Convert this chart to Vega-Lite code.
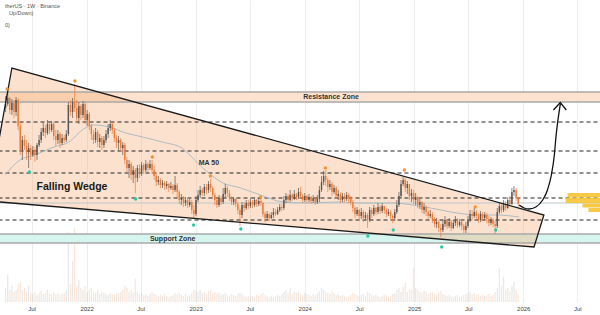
{
"$schema": "https://vega.github.io/schema/vega-lite/v6.json",
"width": 600, "height": 302, "autosize": "none", "padding": {"left": 0, "top": 0, "right": 0, "bottom": 13}, "background": "white",
"config": {"view": {"stroke": null}, "axis": {"labelFont": "Liberation Sans", "labelFontSize": 6, "labelColor": "#444", "ticks": false, "domain": false, "grid": true, "gridColor": "#ededed", "gridWidth": 1, "labelPadding": 3}},
"datasets": {
"candles": [
{"d":"2021-04-05","o":2.02,"h":2.14,"l":1.98,"c":2.06,"v":14},
{"d":"2021-04-12","o":2.06,"h":2.20,"l":2.04,"c":2.12,"v":27},
{"d":"2021-04-19","o":2.12,"h":2.13,"l":1.96,"c":2.00,"v":12},
{"d":"2021-04-26","o":2.00,"h":2.11,"l":1.95,"c":2.07,"v":16},
{"d":"2021-05-03","o":2.07,"h":2.10,"l":1.92,"c":1.98,"v":10},
{"d":"2021-05-10","o":1.98,"h":2.13,"l":1.94,"c":2.10,"v":12},
{"d":"2021-05-17","o":2.10,"h":2.12,"l":1.80,"c":1.84,"v":18},
{"d":"2021-05-24","o":1.84,"h":1.88,"l":1.55,"c":1.60,"v":20},
{"d":"2021-05-31","o":1.60,"h":1.74,"l":1.50,"c":1.70,"v":12},
{"d":"2021-06-07","o":1.70,"h":1.75,"l":1.60,"c":1.64,"v":14},
{"d":"2021-06-14","o":1.64,"h":1.70,"l":1.50,"c":1.58,"v":10},
{"d":"2021-06-21","o":1.58,"h":1.67,"l":1.42,"c":1.62,"v":16},
{"d":"2021-06-28","o":1.62,"h":1.65,"l":1.50,"c":1.55,"v":9},
{"d":"2021-07-05","o":1.55,"h":1.64,"l":1.53,"c":1.60,"v":8},
{"d":"2021-07-12","o":1.60,"h":1.63,"l":1.48,"c":1.55,"v":10},
{"d":"2021-07-19","o":1.55,"h":1.67,"l":1.50,"c":1.65,"v":7},
{"d":"2021-07-26","o":1.65,"h":1.75,"l":1.63,"c":1.70,"v":9},
{"d":"2021-08-02","o":1.70,"h":1.82,"l":1.67,"c":1.78,"v":11},
{"d":"2021-08-09","o":1.78,"h":1.87,"l":1.74,"c":1.82,"v":8},
{"d":"2021-08-16","o":1.82,"h":1.85,"l":1.72,"c":1.77,"v":9},
{"d":"2021-08-23","o":1.77,"h":1.90,"l":1.75,"c":1.86,"v":12},
{"d":"2021-08-30","o":1.86,"h":1.88,"l":1.76,"c":1.80,"v":8},
{"d":"2021-09-06","o":1.80,"h":1.89,"l":1.78,"c":1.86,"v":7},
{"d":"2021-09-13","o":1.86,"h":1.88,"l":1.70,"c":1.74,"v":10},
{"d":"2021-09-20","o":1.74,"h":1.80,"l":1.64,"c":1.70,"v":8},
{"d":"2021-09-27","o":1.70,"h":1.80,"l":1.66,"c":1.76,"v":9},
{"d":"2021-10-04","o":1.76,"h":1.78,"l":1.62,"c":1.67,"v":7},
{"d":"2021-10-11","o":1.67,"h":1.76,"l":1.65,"c":1.72,"v":8},
{"d":"2021-10-18","o":1.72,"h":1.75,"l":1.67,"c":1.70,"v":9},
{"d":"2021-10-25","o":1.70,"h":1.80,"l":1.68,"c":1.76,"v":12},
{"d":"2021-11-01","o":1.76,"h":2.08,"l":1.74,"c":2.05,"v":69},
{"d":"2021-11-08","o":2.05,"h":2.10,"l":1.94,"c":1.98,"v":18},
{"d":"2021-11-15","o":1.98,"h":2.12,"l":1.92,"c":2.08,"v":40},
{"d":"2021-11-22","o":2.08,"h":2.26,"l":1.98,"c":2.02,"v":74},
{"d":"2021-11-29","o":2.02,"h":2.10,"l":1.88,"c":1.92,"v":16},
{"d":"2021-12-06","o":1.92,"h":2.08,"l":1.86,"c":2.04,"v":22},
{"d":"2021-12-13","o":2.04,"h":2.06,"l":1.90,"c":1.95,"v":14},
{"d":"2021-12-20","o":1.95,"h":2.09,"l":1.92,"c":2.06,"v":12},
{"d":"2021-12-27","o":2.06,"h":2.08,"l":1.86,"c":1.90,"v":16},
{"d":"2022-01-03","o":1.90,"h":2.00,"l":1.84,"c":1.96,"v":10},
{"d":"2022-01-10","o":1.96,"h":1.98,"l":1.80,"c":1.84,"v":12},
{"d":"2022-01-17","o":1.84,"h":1.86,"l":1.70,"c":1.76,"v":14},
{"d":"2022-01-24","o":1.76,"h":1.80,"l":1.66,"c":1.70,"v":10},
{"d":"2022-01-31","o":1.70,"h":1.82,"l":1.67,"c":1.78,"v":9},
{"d":"2022-02-07","o":1.78,"h":1.80,"l":1.63,"c":1.68,"v":12},
{"d":"2022-02-14","o":1.68,"h":1.76,"l":1.62,"c":1.72,"v":8},
{"d":"2022-02-21","o":1.72,"h":1.74,"l":1.60,"c":1.65,"v":10},
{"d":"2022-02-28","o":1.65,"h":1.74,"l":1.62,"c":1.70,"v":9},
{"d":"2022-03-07","o":1.70,"h":1.80,"l":1.67,"c":1.76,"v":8},
{"d":"2022-03-14","o":1.76,"h":1.86,"l":1.72,"c":1.82,"v":7},
{"d":"2022-03-21","o":1.82,"h":1.90,"l":1.79,"c":1.86,"v":9},
{"d":"2022-03-28","o":1.86,"h":1.88,"l":1.76,"c":1.80,"v":8},
{"d":"2022-04-04","o":1.80,"h":1.82,"l":1.68,"c":1.72,"v":7},
{"d":"2022-04-11","o":1.72,"h":1.75,"l":1.62,"c":1.67,"v":8},
{"d":"2022-04-18","o":1.67,"h":1.74,"l":1.60,"c":1.70,"v":9},
{"d":"2022-04-25","o":1.70,"h":1.72,"l":1.58,"c":1.62,"v":10},
{"d":"2022-05-02","o":1.62,"h":1.68,"l":1.55,"c":1.65,"v":12},
{"d":"2022-05-09","o":1.65,"h":1.67,"l":1.46,"c":1.50,"v":16},
{"d":"2022-05-16","o":1.50,"h":1.53,"l":1.38,"c":1.42,"v":14},
{"d":"2022-05-23","o":1.42,"h":1.50,"l":1.32,"c":1.46,"v":10},
{"d":"2022-05-30","o":1.46,"h":1.48,"l":1.30,"c":1.35,"v":12},
{"d":"2022-06-06","o":1.35,"h":1.44,"l":1.27,"c":1.40,"v":9},
{"d":"2022-06-13","o":1.40,"h":1.42,"l":1.17,"c":1.32,"v":23},
{"d":"2022-06-20","o":1.32,"h":1.45,"l":1.28,"c":1.42,"v":10},
{"d":"2022-06-27","o":1.42,"h":1.46,"l":1.32,"c":1.38,"v":8},
{"d":"2022-07-04","o":1.38,"h":1.48,"l":1.34,"c":1.45,"v":9},
{"d":"2022-07-11","o":1.45,"h":1.47,"l":1.36,"c":1.40,"v":7},
{"d":"2022-07-18","o":1.40,"h":1.50,"l":1.38,"c":1.46,"v":8},
{"d":"2022-07-25","o":1.46,"h":1.48,"l":1.37,"c":1.42,"v":6},
{"d":"2022-08-01","o":1.42,"h":1.50,"l":1.40,"c":1.46,"v":8},
{"d":"2022-08-08","o":1.46,"h":1.50,"l":1.36,"c":1.40,"v":10},
{"d":"2022-08-15","o":1.40,"h":1.44,"l":1.30,"c":1.34,"v":8},
{"d":"2022-08-22","o":1.34,"h":1.36,"l":1.24,"c":1.28,"v":7},
{"d":"2022-08-29","o":1.28,"h":1.34,"l":1.25,"c":1.30,"v":6},
{"d":"2022-09-05","o":1.30,"h":1.32,"l":1.22,"c":1.25,"v":7},
{"d":"2022-09-12","o":1.25,"h":1.30,"l":1.22,"c":1.27,"v":6},
{"d":"2022-09-19","o":1.27,"h":1.29,"l":1.20,"c":1.24,"v":8},
{"d":"2022-09-26","o":1.24,"h":1.29,"l":1.21,"c":1.26,"v":6},
{"d":"2022-10-03","o":1.26,"h":1.27,"l":1.18,"c":1.22,"v":5},
{"d":"2022-10-10","o":1.22,"h":1.28,"l":1.20,"c":1.24,"v":6},
{"d":"2022-10-17","o":1.24,"h":1.26,"l":1.16,"c":1.20,"v":7},
{"d":"2022-10-24","o":1.20,"h":1.34,"l":1.18,"c":1.25,"v":9},
{"d":"2022-10-31","o":1.25,"h":1.27,"l":1.12,"c":1.18,"v":8},
{"d":"2022-11-07","o":1.18,"h":1.20,"l":1.06,"c":1.10,"v":10},
{"d":"2022-11-14","o":1.10,"h":1.16,"l":1.05,"c":1.12,"v":7},
{"d":"2022-11-21","o":1.12,"h":1.14,"l":1.03,"c":1.07,"v":6},
{"d":"2022-11-28","o":1.07,"h":1.13,"l":1.04,"c":1.10,"v":8},
{"d":"2022-12-05","o":1.10,"h":1.12,"l":1.02,"c":1.05,"v":6},
{"d":"2022-12-12","o":1.05,"h":1.11,"l":1.03,"c":1.08,"v":7},
{"d":"2022-12-19","o":1.08,"h":1.10,"l":0.96,"c":1.00,"v":9},
{"d":"2022-12-26","o":1.00,"h":1.05,"l":0.91,"c":0.96,"v":12},
{"d":"2023-01-02","o":0.96,"h":1.14,"l":0.94,"c":1.10,"v":11},
{"d":"2023-01-09","o":1.10,"h":1.20,"l":1.08,"c":1.15,"v":10},
{"d":"2023-01-16","o":1.15,"h":1.24,"l":1.12,"c":1.20,"v":12},
{"d":"2023-01-23","o":1.20,"h":1.22,"l":1.14,"c":1.17,"v":9},
{"d":"2023-01-30","o":1.17,"h":1.26,"l":1.14,"c":1.23,"v":10},
{"d":"2023-02-06","o":1.23,"h":1.26,"l":1.16,"c":1.20,"v":8},
{"d":"2023-02-13","o":1.20,"h":1.29,"l":1.17,"c":1.26,"v":11},
{"d":"2023-02-20","o":1.26,"h":1.31,"l":1.18,"c":1.22,"v":12},
{"d":"2023-02-27","o":1.22,"h":1.24,"l":1.12,"c":1.15,"v":9},
{"d":"2023-03-06","o":1.15,"h":1.17,"l":1.05,"c":1.10,"v":10},
{"d":"2023-03-13","o":1.10,"h":1.12,"l":1.02,"c":1.05,"v":8},
{"d":"2023-03-20","o":1.05,"h":1.15,"l":1.03,"c":1.12,"v":9},
{"d":"2023-03-27","o":1.12,"h":1.14,"l":1.05,"c":1.08,"v":7},
{"d":"2023-04-03","o":1.08,"h":1.22,"l":1.06,"c":1.16,"v":8},
{"d":"2023-04-10","o":1.16,"h":1.26,"l":1.13,"c":1.22,"v":9},
{"d":"2023-04-17","o":1.22,"h":1.24,"l":1.13,"c":1.17,"v":7},
{"d":"2023-04-24","o":1.17,"h":1.20,"l":1.09,"c":1.12,"v":6},
{"d":"2023-05-01","o":1.12,"h":1.14,"l":1.05,"c":1.08,"v":8},
{"d":"2023-05-08","o":1.08,"h":1.13,"l":1.05,"c":1.11,"v":7},
{"d":"2023-05-15","o":1.11,"h":1.12,"l":1.03,"c":1.06,"v":6},
{"d":"2023-05-22","o":1.06,"h":1.08,"l":0.96,"c":1.00,"v":8},
{"d":"2023-05-29","o":1.00,"h":1.02,"l":0.84,"c":0.95,"v":9},
{"d":"2023-06-05","o":0.95,"h":1.08,"l":0.92,"c":1.05,"v":8},
{"d":"2023-06-12","o":1.05,"h":1.08,"l":0.98,"c":1.02,"v":6},
{"d":"2023-06-19","o":1.02,"h":1.10,"l":1.00,"c":1.07,"v":5},
{"d":"2023-06-26","o":1.07,"h":1.10,"l":1.01,"c":1.04,"v":6},
{"d":"2023-07-03","o":1.04,"h":1.11,"l":1.02,"c":1.08,"v":5},
{"d":"2023-07-10","o":1.08,"h":1.10,"l":1.02,"c":1.05,"v":6},
{"d":"2023-07-17","o":1.05,"h":1.13,"l":1.03,"c":1.10,"v":5},
{"d":"2023-07-24","o":1.10,"h":1.11,"l":1.03,"c":1.06,"v":7},
{"d":"2023-07-31","o":1.06,"h":1.12,"l":1.04,"c":1.09,"v":6},
{"d":"2023-08-07","o":1.09,"h":1.11,"l":1.04,"c":1.07,"v":8},
{"d":"2023-08-14","o":1.07,"h":1.08,"l":0.93,"c":0.96,"v":9},
{"d":"2023-08-21","o":0.96,"h":0.98,"l":0.88,"c":0.92,"v":7},
{"d":"2023-08-28","o":0.92,"h":0.99,"l":0.90,"c":0.96,"v":6},
{"d":"2023-09-04","o":0.96,"h":0.97,"l":0.89,"c":0.92,"v":5},
{"d":"2023-09-11","o":0.92,"h":0.98,"l":0.91,"c":0.95,"v":6},
{"d":"2023-09-18","o":0.95,"h":1.02,"l":0.92,"c":0.98,"v":5},
{"d":"2023-09-25","o":0.98,"h":1.01,"l":0.94,"c":0.96,"v":6},
{"d":"2023-10-02","o":0.96,"h":1.03,"l":0.95,"c":1.00,"v":7},
{"d":"2023-10-09","o":1.00,"h":1.06,"l":0.98,"c":1.03,"v":6},
{"d":"2023-10-16","o":1.03,"h":1.06,"l":0.99,"c":1.02,"v":8},
{"d":"2023-10-23","o":1.02,"h":1.14,"l":1.00,"c":1.10,"v":10},
{"d":"2023-10-30","o":1.10,"h":1.17,"l":1.07,"c":1.14,"v":12},
{"d":"2023-11-06","o":1.14,"h":1.16,"l":1.07,"c":1.10,"v":9},
{"d":"2023-11-13","o":1.10,"h":1.20,"l":1.08,"c":1.15,"v":14},
{"d":"2023-11-20","o":1.15,"h":1.17,"l":1.09,"c":1.12,"v":8},
{"d":"2023-11-27","o":1.12,"h":1.20,"l":1.10,"c":1.16,"v":10},
{"d":"2023-12-04","o":1.16,"h":1.17,"l":1.10,"c":1.13,"v":9},
{"d":"2023-12-11","o":1.13,"h":1.22,"l":1.11,"c":1.18,"v":11},
{"d":"2023-12-18","o":1.18,"h":1.23,"l":1.11,"c":1.14,"v":8},
{"d":"2023-12-25","o":1.14,"h":1.16,"l":1.07,"c":1.10,"v":7},
{"d":"2024-01-01","o":1.10,"h":1.17,"l":1.08,"c":1.14,"v":9},
{"d":"2024-01-08","o":1.14,"h":1.15,"l":1.07,"c":1.10,"v":8},
{"d":"2024-01-15","o":1.10,"h":1.16,"l":1.08,"c":1.13,"v":7},
{"d":"2024-01-22","o":1.13,"h":1.14,"l":1.06,"c":1.09,"v":6},
{"d":"2024-01-29","o":1.09,"h":1.15,"l":1.07,"c":1.12,"v":8},
{"d":"2024-02-05","o":1.12,"h":1.13,"l":1.05,"c":1.08,"v":7},
{"d":"2024-02-12","o":1.08,"h":1.15,"l":1.06,"c":1.11,"v":9},
{"d":"2024-02-19","o":1.11,"h":1.24,"l":1.08,"c":1.20,"v":11},
{"d":"2024-02-26","o":1.20,"h":1.34,"l":1.18,"c":1.28,"v":14},
{"d":"2024-03-04","o":1.28,"h":1.39,"l":1.25,"c":1.34,"v":12},
{"d":"2024-03-11","o":1.34,"h":1.40,"l":1.24,"c":1.30,"v":10},
{"d":"2024-03-18","o":1.30,"h":1.32,"l":1.18,"c":1.23,"v":9},
{"d":"2024-03-25","o":1.23,"h":1.30,"l":1.20,"c":1.26,"v":8},
{"d":"2024-04-01","o":1.26,"h":1.28,"l":1.14,"c":1.18,"v":11},
{"d":"2024-04-08","o":1.18,"h":1.25,"l":1.16,"c":1.22,"v":9},
{"d":"2024-04-15","o":1.22,"h":1.24,"l":1.11,"c":1.14,"v":7},
{"d":"2024-04-22","o":1.14,"h":1.20,"l":1.10,"c":1.16,"v":8},
{"d":"2024-04-29","o":1.16,"h":1.18,"l":1.07,"c":1.10,"v":6},
{"d":"2024-05-06","o":1.10,"h":1.17,"l":1.08,"c":1.14,"v":7},
{"d":"2024-05-13","o":1.14,"h":1.17,"l":1.08,"c":1.11,"v":6},
{"d":"2024-05-20","o":1.11,"h":1.18,"l":1.09,"c":1.15,"v":5},
{"d":"2024-05-27","o":1.15,"h":1.17,"l":1.07,"c":1.12,"v":6},
{"d":"2024-06-03","o":1.12,"h":1.14,"l":1.05,"c":1.08,"v":7},
{"d":"2024-06-10","o":1.08,"h":1.10,"l":0.98,"c":1.02,"v":9},
{"d":"2024-06-17","o":1.02,"h":1.04,"l":0.92,"c":0.96,"v":8},
{"d":"2024-06-24","o":0.96,"h":1.03,"l":0.94,"c":1.00,"v":7},
{"d":"2024-07-01","o":1.00,"h":1.01,"l":0.90,"c":0.94,"v":6},
{"d":"2024-07-08","o":0.94,"h":1.02,"l":0.91,"c":0.98,"v":7},
{"d":"2024-07-15","o":0.98,"h":1.00,"l":0.88,"c":0.92,"v":8},
{"d":"2024-07-22","o":0.92,"h":0.98,"l":0.90,"c":0.95,"v":6},
{"d":"2024-07-29","o":0.95,"h":0.97,"l":0.82,"c":0.90,"v":10},
{"d":"2024-08-05","o":0.90,"h":1.03,"l":0.88,"c":1.00,"v":9},
{"d":"2024-08-12","o":1.00,"h":1.02,"l":0.92,"c":0.96,"v":7},
{"d":"2024-08-19","o":0.96,"h":1.05,"l":0.94,"c":1.02,"v":6},
{"d":"2024-08-26","o":1.02,"h":1.03,"l":0.95,"c":0.98,"v":7},
{"d":"2024-09-02","o":0.98,"h":1.07,"l":0.96,"c":1.03,"v":6},
{"d":"2024-09-09","o":1.03,"h":1.05,"l":0.96,"c":0.99,"v":5},
{"d":"2024-09-16","o":0.99,"h":1.07,"l":0.97,"c":1.04,"v":6},
{"d":"2024-09-23","o":1.04,"h":1.04,"l":0.96,"c":1.00,"v":7},
{"d":"2024-09-30","o":1.00,"h":1.02,"l":0.93,"c":0.96,"v":6},
{"d":"2024-10-07","o":0.96,"h":1.01,"l":0.94,"c":0.98,"v":5},
{"d":"2024-10-14","o":0.98,"h":1.00,"l":0.91,"c":0.94,"v":6},
{"d":"2024-10-21","o":0.94,"h":0.96,"l":0.87,"c":0.92,"v":8},
{"d":"2024-10-28","o":0.92,"h":1.01,"l":0.89,"c":0.98,"v":9},
{"d":"2024-11-04","o":0.98,"h":1.10,"l":0.96,"c":1.05,"v":12},
{"d":"2024-11-11","o":1.05,"h":1.18,"l":1.03,"c":1.14,"v":14},
{"d":"2024-11-18","o":1.14,"h":1.30,"l":1.12,"c":1.26,"v":10},
{"d":"2024-11-25","o":1.26,"h":1.33,"l":1.24,"c":1.30,"v":15},
{"d":"2024-12-02","o":1.30,"h":1.32,"l":1.18,"c":1.22,"v":19},
{"d":"2024-12-09","o":1.22,"h":1.29,"l":1.16,"c":1.26,"v":10},
{"d":"2024-12-16","o":1.26,"h":1.26,"l":1.10,"c":1.14,"v":12},
{"d":"2024-12-23","o":1.14,"h":1.21,"l":1.08,"c":1.17,"v":12},
{"d":"2024-12-30","o":1.17,"h":1.20,"l":1.06,"c":1.10,"v":34},
{"d":"2025-01-06","o":1.10,"h":1.17,"l":1.05,"c":1.13,"v":14},
{"d":"2025-01-13","o":1.13,"h":1.14,"l":1.02,"c":1.05,"v":12},
{"d":"2025-01-20","o":1.05,"h":1.11,"l":1.01,"c":1.08,"v":10},
{"d":"2025-01-27","o":1.08,"h":1.09,"l":0.97,"c":1.00,"v":9},
{"d":"2025-02-03","o":1.00,"h":1.07,"l":0.96,"c":1.03,"v":11},
{"d":"2025-02-10","o":1.03,"h":1.05,"l":0.94,"c":0.98,"v":10},
{"d":"2025-02-17","o":0.98,"h":1.00,"l":0.91,"c":0.94,"v":8},
{"d":"2025-02-24","o":0.94,"h":1.00,"l":0.92,"c":0.96,"v":9},
{"d":"2025-03-03","o":0.96,"h":0.98,"l":0.87,"c":0.90,"v":10},
{"d":"2025-03-10","o":0.90,"h":0.93,"l":0.83,"c":0.86,"v":8},
{"d":"2025-03-17","o":0.86,"h":0.92,"l":0.82,"c":0.88,"v":7},
{"d":"2025-03-24","o":0.88,"h":0.90,"l":0.78,"c":0.82,"v":9},
{"d":"2025-03-31","o":0.82,"h":0.86,"l":0.73,"c":0.80,"v":11},
{"d":"2025-04-07","o":0.80,"h":0.90,"l":0.78,"c":0.86,"v":8},
{"d":"2025-04-14","o":0.86,"h":0.94,"l":0.83,"c":0.90,"v":7},
{"d":"2025-04-21","o":0.90,"h":0.91,"l":0.81,"c":0.84,"v":6},
{"d":"2025-04-28","o":0.84,"h":0.92,"l":0.82,"c":0.88,"v":7},
{"d":"2025-05-05","o":0.88,"h":0.90,"l":0.79,"c":0.82,"v":6},
{"d":"2025-05-12","o":0.82,"h":0.90,"l":0.81,"c":0.87,"v":5},
{"d":"2025-05-19","o":0.87,"h":0.94,"l":0.84,"c":0.90,"v":6},
{"d":"2025-05-26","o":0.90,"h":0.92,"l":0.82,"c":0.85,"v":7},
{"d":"2025-06-02","o":0.85,"h":0.91,"l":0.83,"c":0.88,"v":5},
{"d":"2025-06-09","o":0.88,"h":0.90,"l":0.80,"c":0.84,"v":6},
{"d":"2025-06-16","o":0.84,"h":0.86,"l":0.77,"c":0.80,"v":7},
{"d":"2025-06-23","o":0.80,"h":0.88,"l":0.77,"c":0.84,"v":8},
{"d":"2025-06-30","o":0.84,"h":0.94,"l":0.82,"c":0.90,"v":9},
{"d":"2025-07-07","o":0.90,"h":1.00,"l":0.88,"c":0.96,"v":10},
{"d":"2025-07-14","o":0.96,"h":1.00,"l":0.90,"c":0.94,"v":8},
{"d":"2025-07-21","o":0.94,"h":1.02,"l":0.92,"c":0.98,"v":9},
{"d":"2025-07-28","o":0.98,"h":1.00,"l":0.90,"c":0.94,"v":7},
{"d":"2025-08-04","o":0.94,"h":0.97,"l":0.87,"c":0.90,"v":8},
{"d":"2025-08-11","o":0.90,"h":0.99,"l":0.88,"c":0.96,"v":6},
{"d":"2025-08-18","o":0.96,"h":0.98,"l":0.89,"c":0.92,"v":7},
{"d":"2025-08-25","o":0.92,"h":0.98,"l":0.90,"c":0.95,"v":6},
{"d":"2025-09-01","o":0.95,"h":0.97,"l":0.87,"c":0.91,"v":7},
{"d":"2025-09-08","o":0.91,"h":0.94,"l":0.84,"c":0.87,"v":8},
{"d":"2025-09-15","o":0.87,"h":0.93,"l":0.85,"c":0.90,"v":6},
{"d":"2025-09-22","o":0.90,"h":0.92,"l":0.83,"c":0.86,"v":7},
{"d":"2025-09-29","o":0.86,"h":0.89,"l":0.76,"c":0.84,"v":10},
{"d":"2025-10-06","o":0.84,"h":1.02,"l":0.82,"c":0.98,"v":14},
{"d":"2025-10-13","o":0.98,"h":1.08,"l":0.96,"c":1.04,"v":34},
{"d":"2025-10-20","o":1.04,"h":1.06,"l":0.97,"c":1.00,"v":16},
{"d":"2025-10-27","o":1.00,"h":1.10,"l":0.98,"c":1.06,"v":25},
{"d":"2025-11-03","o":1.06,"h":1.09,"l":0.99,"c":1.02,"v":12},
{"d":"2025-11-10","o":1.02,"h":1.13,"l":1.01,"c":1.10,"v":14},
{"d":"2025-11-17","o":1.10,"h":1.14,"l":1.04,"c":1.06,"v":11},
{"d":"2025-11-24","o":1.06,"h":1.22,"l":1.05,"c":1.18,"v":16},
{"d":"2025-12-01","o":1.18,"h":1.24,"l":1.14,"c":1.20,"v":20},
{"d":"2025-12-08","o":1.20,"h":1.22,"l":1.09,"c":1.12,"v":12},
{"d":"2025-12-15","o":1.12,"h":1.13,"l":1.03,"c":1.06,"v":8}
],
"ma": [
{"d":"2021-04-03","p":1.35},{"d":"2021-05-23","p":1.50},{"d":"2021-07-11","p":1.55},{"d":"2021-09-14","p":1.63},{"d":"2021-11-03","p":1.68},{"d":"2021-12-22","p":1.81},{"d":"2022-01-24","p":1.85},{"d":"2022-03-30","p":1.82},{"d":"2022-05-02","p":1.78},{"d":"2022-07-07","p":1.73},{"d":"2022-09-11","p":1.68},{"d":"2022-11-16","p":1.62},{"d":"2022-12-19","p":1.53},{"d":"2023-01-21","p":1.43},{"d":"2023-02-22","p":1.35},{"d":"2023-03-27","p":1.28},{"d":"2023-06-01","p":1.22},{"d":"2023-08-06","p":1.15},{"d":"2023-10-21","p":1.08},{"d":"2024-01-08","p":1.07},{"d":"2024-04-25","p":1.08},{"d":"2024-06-30","p":1.07},{"d":"2024-10-17","p":1.07},{"d":"2025-02-06","p":1.03},{"d":"2025-05-25","p":0.97},{"d":"2025-07-30","p":0.95},{"d":"2025-10-04","p":0.95},{"d":"2025-12-18","p":0.93}
],
"wedge": [
{"d":"2021-02-05","t":1.09,"b":1.09},{"d":"2021-04-26","t":2.42,"b":1.07},{"d":"2026-02-06","t":0.97,"b":0.63},{"d":"2026-03-11","t":0.95,"b":0.95}
],
"outline": [
{"d":"2021-02-05","p":1.09,"n":1},{"d":"2021-04-26","p":2.42,"n":2},{"d":"2026-03-11","p":0.95,"n":3},{"d":"2026-02-06","p":0.63,"n":4},{"d":"2021-02-05","p":1.09,"n":5}
],
"bands": [
{"d":"2021-01-01","d2":"2026-12-31","p":2.18,"p2":2.08,"k":"r"},
{"d":"2021-01-01","d2":"2026-12-31","p":0.76,"p2":0.67,"k":"s"}
],
"borders": [
{"d":"2021-01-01","d2":"2026-12-31","p":2.18},{"d":"2021-01-01","d2":"2026-12-31","p":2.08},
{"d":"2021-01-01","d2":"2026-12-31","p":0.76},{"d":"2021-01-01","d2":"2026-12-31","p":0.67}
],
"dashes": [
{"d":"2021-01-01","d2":"2026-12-31","p":1.88},{"d":"2021-01-01","d2":"2026-12-31","p":1.59},
{"d":"2021-01-01","d2":"2026-12-31","p":1.37},{"d":"2021-01-01","d2":"2026-12-31","p":1.12},
{"d":"2021-01-01","d2":"2026-12-31","p":0.90}
],
"priceline": [{"d":"2021-01-01","d2":"2026-12-31","p":1.07}],
"orange": [
{"d":"2021-04-10","p":2.21},{"d":"2021-11-23","p":2.29},{"d":"2022-08-09","p":1.53},{"d":"2023-02-19","p":1.34},{"d":"2023-08-06","p":1.13},{"d":"2024-03-10","p":1.42},{"d":"2024-11-29","p":1.40},{"d":"2025-07-24","p":1.03}
],
"teal": [
{"d":"2021-06-24","p":1.38},{"d":"2022-06-14","p":1.11},{"d":"2022-12-25","p":0.85},{"d":"2023-06-01","p":0.81},{"d":"2024-07-30","p":0.74},{"d":"2024-10-23","p":0.80},{"d":"2025-04-03","p":0.63},{"d":"2025-10-01","p":0.80}
],
"arrow": [
{"d":"2025-12-18","p":1.05},{"d":"2026-01-04","p":1.02},{"d":"2026-01-20","p":1.01},{"d":"2026-02-12","p":1.03},{"d":"2026-03-07","p":1.10},{"d":"2026-03-23","p":1.20},{"d":"2026-04-05","p":1.35},{"d":"2026-04-15","p":1.55},{"d":"2026-04-21","p":1.75},{"d":"2026-04-28","p":1.92},{"d":"2026-05-05","p":2.06}
],
"head": [
{"d":"2026-04-12","p":2.00,"n":1},{"d":"2026-05-05","p":2.075,"n":2},{"d":"2026-05-25","p":2.00,"n":3}
],
"vp": [
{"d":"2026-05-29","d2":"2026-12-31","p":1.17,"p2":1.13},
{"d":"2026-05-23","d2":"2026-12-31","p":1.125,"p2":1.07},
{"d":"2026-07-18","d2":"2026-12-31","p":1.065,"p2":1.025},
{"d":"2026-08-07","d2":"2026-12-31","p":1.02,"p2":0.98}
],
"labels": [
{"d":"2024-03-29","p":2.13,"t":"Resistance Zone"},
{"d":"2022-10-16","p":0.715,"t":"Support Zone"},
{"d":"2023-02-14","p":1.47,"t":"MA 50"}
],
"wedgelabel": [{"d":"2021-11-13","p":1.23,"t":"Falling Wedge"}],
"info": [
{"d":"2021-04-03","p":3.04,"t":"therUS · 1W · Binance"},
{"d":"2021-04-16","p":2.97,"t":"Up/Down)"},
{"d":"2021-04-03","p":2.85,"t":"0)"}
]
},
"encoding": {
"x": {"field": "d", "type": "temporal", "title": null,
 "scale": {"type": "utc", "domain": [{"year": 2021, "month": 4, "date": 3, "utc": true}, {"year": 2026, "month": 8, "date": 29, "utc": true}]},
 "axis": {"values": [{"year":2021,"month":7,"date":1,"utc":true},{"year":2022,"month":1,"date":1,"utc":true},{"year":2022,"month":7,"date":1,"utc":true},{"year":2023,"month":1,"date":1,"utc":true},{"year":2023,"month":7,"date":1,"utc":true},{"year":2024,"month":1,"date":1,"utc":true},{"year":2024,"month":7,"date":1,"utc":true},{"year":2025,"month":1,"date":1,"utc":true},{"year":2025,"month":7,"date":1,"utc":true},{"year":2026,"month":1,"date":1,"utc":true},{"year":2026,"month":7,"date":1,"utc":true}],
  "labelExpr": "utcFormat(datum.value, '%m') == '01' ? utcFormat(datum.value, '%Y') : 'Jul'"}}
},
"layer": [
{"data": {"name": "candles"}, "mark": {"type": "bar", "width": 1.3, "opacity": 0.4, "clip": true},
 "encoding": {"y": {"field": "v", "type": "quantitative", "scale": {"domain": [0, 300]}, "axis": null},
  "color": {"condition": {"test": "datum.c >= datum.o", "value": "#c8c8c8"}, "value": "#f5c3a3"}}},
{"layer": [
 {"data": {"name": "bands"}, "mark": {"type": "rect", "clip": true},
  "encoding": {"x2": {"field": "d2"}, "y": {"field": "p", "type": "quantitative", "scale": {"domain": [0.08, 3.1], "nice": false, "zero": false}, "axis": null}, "y2": {"field": "p2"},
   "color": {"condition": {"test": "datum.k == 'r'", "value": "#fde3cf"}, "value": "#d6f5ef"}}},
 {"data": {"name": "wedge"}, "mark": {"type": "area", "clip": true, "color": "#f7a468", "opacity": 0.32},
  "encoding": {"y": {"field": "t", "type": "quantitative", "scale": {"domain": [0.08, 3.1], "nice": false, "zero": false}, "axis": null}, "y2": {"field": "b"}}},
 {"data": {"name": "borders"}, "mark": {"type": "rule", "clip": true, "color": "#a8a8a8", "strokeWidth": 1.3},
  "encoding": {"x2": {"field": "d2"}, "y": {"field": "p", "type": "quantitative", "scale": {"domain": [0.08, 3.1], "nice": false, "zero": false}, "axis": null}}},
 {"data": {"name": "dashes"}, "mark": {"type": "rule", "clip": true, "color": "#222", "strokeWidth": 1, "strokeDash": [4, 3]},
  "encoding": {"x2": {"field": "d2"}, "y": {"field": "p", "type": "quantitative", "scale": {"domain": [0.08, 3.1], "nice": false, "zero": false}, "axis": null}}},
 {"data": {"name": "priceline"}, "mark": {"type": "rule", "clip": true, "color": "#bcc6cc", "strokeWidth": 1},
  "encoding": {"x2": {"field": "d2"}, "y": {"field": "p", "type": "quantitative", "scale": {"domain": [0.08, 3.1], "nice": false, "zero": false}, "axis": null}}},
 {"data": {"name": "ma"}, "mark": {"type": "line", "color": "#aebbc4", "strokeWidth": 1, "interpolate": "monotone", "clip": true},
  "encoding": {"y": {"field": "p", "type": "quantitative", "scale": {"domain": [0.08, 3.1], "nice": false, "zero": false}, "axis": null}}},
 {"data": {"name": "candles"}, "mark": {"type": "rule", "strokeWidth": 0.7, "clip": true},
  "encoding": {"y": {"field": "h", "type": "quantitative", "scale": {"domain": [0.08, 3.1], "nice": false, "zero": false}, "axis": null}, "y2": {"field": "l"},
   "color": {"condition": {"test": "datum.c >= datum.o", "value": "#555555"}, "value": "#ef7a36"}}},
 {"data": {"name": "candles"}, "mark": {"type": "bar", "width": 1.4, "clip": true},
  "encoding": {"y": {"field": "o", "type": "quantitative", "scale": {"domain": [0.08, 3.1], "nice": false, "zero": false}, "axis": null}, "y2": {"field": "c"},
   "color": {"condition": {"test": "datum.c >= datum.o", "value": "#555555"}, "value": "#ef7a36"}}},
 {"data": {"name": "outline"}, "mark": {"type": "line", "clip": true, "color": "#1a1a1a", "strokeWidth": 1.3},
  "encoding": {"y": {"field": "p", "type": "quantitative", "scale": {"domain": [0.08, 3.1], "nice": false, "zero": false}, "axis": null}, "order": {"field": "n"}}},
 {"data": {"name": "orange"}, "mark": {"type": "point", "filled": true, "size": 11, "color": "#f5922e", "opacity": 1, "clip": true},
  "encoding": {"y": {"field": "p", "type": "quantitative", "scale": {"domain": [0.08, 3.1], "nice": false, "zero": false}, "axis": null}}},
 {"data": {"name": "teal"}, "mark": {"type": "point", "filled": true, "size": 11, "color": "#2cc7a3", "opacity": 1, "clip": true},
  "encoding": {"y": {"field": "p", "type": "quantitative", "scale": {"domain": [0.08, 3.1], "nice": false, "zero": false}, "axis": null}}},
 {"data": {"name": "arrow"}, "mark": {"type": "line", "color": "#111", "strokeWidth": 1.3, "interpolate": "monotone"},
  "encoding": {"y": {"field": "p", "type": "quantitative", "scale": {"domain": [0.08, 3.1], "nice": false, "zero": false}, "axis": null}}},
 {"data": {"name": "head"}, "mark": {"type": "line", "color": "#111", "strokeWidth": 1.3},
  "encoding": {"y": {"field": "p", "type": "quantitative", "scale": {"domain": [0.08, 3.1], "nice": false, "zero": false}, "axis": null}, "order": {"field": "n"}}},
 {"data": {"name": "vp"}, "mark": {"type": "rect", "clip": true, "color": "#f5c333", "opacity": 0.9},
  "encoding": {"x2": {"field": "d2"}, "y": {"field": "p", "type": "quantitative", "scale": {"domain": [0.08, 3.1], "nice": false, "zero": false}, "axis": null}, "y2": {"field": "p2"}}},
 {"data": {"name": "labels"}, "mark": {"type": "text", "font": "Liberation Sans", "fontSize": 7, "fontWeight": "bold", "color": "#333", "align": "center", "baseline": "middle"},
  "encoding": {"y": {"field": "p", "type": "quantitative", "scale": {"domain": [0.08, 3.1], "nice": false, "zero": false}, "axis": null}, "text": {"field": "t"}}},
 {"data": {"name": "wedgelabel"}, "mark": {"type": "text", "font": "Liberation Sans", "fontSize": 10.5, "fontWeight": "bold", "color": "#1a1a1a", "align": "center", "baseline": "middle"},
  "encoding": {"y": {"field": "p", "type": "quantitative", "scale": {"domain": [0.08, 3.1], "nice": false, "zero": false}, "axis": null}, "text": {"field": "t"}}},
 {"data": {"name": "info"}, "mark": {"type": "text", "font": "Liberation Sans", "fontSize": 5.5, "color": "#555", "align": "left", "baseline": "middle"},
  "encoding": {"y": {"field": "p", "type": "quantitative", "scale": {"domain": [0.08, 3.1], "nice": false, "zero": false}, "axis": null}, "text": {"field": "t"}}}
]}
],
"resolve": {"scale": {"y": "independent"}}
}
